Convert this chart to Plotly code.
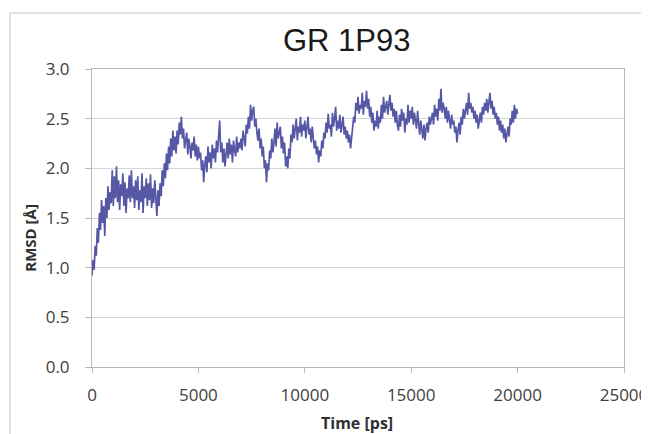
import plotly.graph_objects as go

# Time axis (ps), sampled every 50 ps
time_ps = [i * 50 for i in range(401)]

# RMSD values (Å), 20 values per 1000 ps
rmsd = [
    0.92, 1.08, 0.98, 1.22, 1.12, 1.40, 1.25, 1.55, 1.38, 1.68, 1.45, 1.62, 1.32, 1.70, 1.50, 1.82, 1.58, 1.76, 1.65, 1.98,
    1.62, 1.92, 1.70, 2.02, 1.66, 1.88, 1.58, 1.84, 1.72, 1.95, 1.62, 1.86, 1.55, 1.80, 1.70, 1.93, 1.66, 1.98, 1.70, 1.82,
    1.60, 1.88, 1.68, 1.92, 1.58, 1.78, 1.66, 1.95, 1.55, 1.82, 1.70, 1.90, 1.62, 1.85, 1.68, 1.94, 1.60, 1.80, 1.65, 1.88,
    1.70, 1.52, 1.78, 1.62, 1.85, 1.72, 1.98, 1.82, 2.05, 1.90, 2.15, 1.98, 2.22, 2.05, 2.30, 2.12, 2.38, 2.18, 2.32, 2.15,
    2.38, 2.24, 2.46, 2.34, 2.52, 2.30, 2.40, 2.20, 2.28, 2.36, 2.14, 2.30, 2.22, 2.10, 2.26, 2.18, 2.32, 2.12, 2.24, 2.08,
    2.22, 2.10, 2.16, 1.98, 2.08, 1.86, 2.04, 2.12, 1.96, 2.22, 2.06, 2.16, 2.00, 2.24, 2.10, 2.20, 2.06, 2.28, 2.16, 2.30,
    2.48, 2.16, 2.26, 2.06, 2.20, 2.02, 2.18, 2.26, 2.10, 2.30, 2.14, 2.24, 2.06, 2.28, 2.18, 2.12, 2.32, 2.16, 2.26, 2.20,
    2.30, 2.18, 2.38, 2.26, 2.22, 2.44, 2.35, 2.52, 2.40, 2.64, 2.48, 2.58, 2.62, 2.42, 2.50, 2.36, 2.28, 2.40, 2.20, 2.30,
    2.12, 2.22, 2.00, 2.08, 1.86, 2.05, 1.98, 2.18, 2.10, 2.30, 2.16, 2.26, 2.40, 2.22, 2.46, 2.30, 2.36, 2.42, 2.20, 2.32,
    2.15, 2.26, 2.02, 2.12, 2.00, 2.20, 2.10, 2.34, 2.26, 2.44, 2.30, 2.38, 2.50, 2.28, 2.42, 2.36, 2.52, 2.32, 2.44, 2.38,
    2.48, 2.30, 2.45, 2.52, 2.34, 2.40, 2.26, 2.42, 2.30, 2.20, 2.28, 2.14, 2.22, 2.06, 2.18, 2.12, 2.28, 2.20, 2.36, 2.30,
    2.46, 2.36, 2.55, 2.40, 2.44, 2.32, 2.56, 2.42, 2.50, 2.62, 2.38, 2.48, 2.40, 2.54, 2.36, 2.46, 2.52, 2.34, 2.42, 2.30,
    2.38, 2.26, 2.34, 2.20, 2.30, 2.44, 2.52, 2.46, 2.66, 2.58, 2.72, 2.55, 2.64, 2.60, 2.76, 2.54, 2.68, 2.62, 2.78, 2.60,
    2.70, 2.52, 2.62, 2.46, 2.56, 2.38, 2.48, 2.42, 2.58, 2.40, 2.52, 2.46, 2.64, 2.50, 2.72, 2.56, 2.62, 2.68, 2.54, 2.66,
    2.74, 2.58, 2.66, 2.52, 2.60, 2.46, 2.58, 2.44, 2.38, 2.54, 2.42, 2.60, 2.48, 2.56, 2.36, 2.50, 2.44, 2.64, 2.46, 2.58,
    2.50, 2.62, 2.44, 2.56, 2.48, 2.40, 2.58, 2.42, 2.34, 2.48, 2.38, 2.30, 2.44, 2.28, 2.40, 2.46, 2.36, 2.52, 2.44, 2.50,
    2.56, 2.44, 2.64, 2.52, 2.60, 2.48, 2.70, 2.58, 2.80, 2.56, 2.66, 2.60, 2.50, 2.62, 2.46, 2.58, 2.50, 2.40, 2.54, 2.44,
    2.48, 2.36, 2.42, 2.26, 2.38, 2.46, 2.34, 2.52, 2.44, 2.60, 2.50, 2.58, 2.66, 2.54, 2.76, 2.60, 2.66, 2.56, 2.62, 2.50,
    2.58, 2.46, 2.54, 2.40, 2.50, 2.56, 2.46, 2.62, 2.54, 2.66, 2.58, 2.70, 2.56, 2.64, 2.76, 2.60, 2.68, 2.54, 2.62, 2.50,
    2.56, 2.44, 2.52, 2.38, 2.48, 2.36, 2.44, 2.30, 2.40, 2.26, 2.36, 2.42, 2.32, 2.50, 2.44, 2.58, 2.46, 2.64, 2.50, 2.60,
    2.55,
]

x_ticks = [0, 5000, 10000, 15000, 20000, 25000]
x_tick_labels = ["0", "5000", "10000", "15000", "20000", "25000"]
y_ticks = [0.0, 0.5, 1.0, 1.5, 2.0, 2.5, 3.0]
y_tick_labels = ["0.0", "0.5", "1.0", "1.5", "2.0", "2.5", "3.0"]

title_text = "GR 1P93"
x_title = "Time [ps]"
y_title = "RMSD [Å]"

fig = go.Figure()
fig.add_trace(go.Scatter(
    x=time_ps, y=rmsd, mode="lines",
    line=dict(color="#5658a6", width=1.7),
    showlegend=False, hoverinfo="skip",
))

tick_font = dict(family="Open Sans", size=17, color="#404040")

# The page body adds an 8 px offset, so the figure is sized to fit the window.
fig.update_layout(
    width=641, height=426,
    margin=dict(l=84, r=25, t=61, b=67, autoexpand=False),
    paper_bgcolor="white", plot_bgcolor="white",
    xaxis=dict(
        range=[0, 25000], tickvals=x_ticks, ticktext=x_tick_labels,
        showgrid=False, zeroline=False, automargin=False,
        showline=True, linecolor="#b8b8b8", linewidth=1, mirror=True,
        ticks="outside", ticklen=5, tickcolor="#b8b8b8",
        tickfont=tick_font, ticklabelstandoff=8,
    ),
    yaxis=dict(
        range=[0, 3.0], tickvals=y_ticks, ticktext=y_tick_labels,
        showgrid=True, gridcolor="#d4d4d4", gridwidth=1, zeroline=False,
        automargin=False,
        showline=True, linecolor="#b8b8b8", linewidth=1, mirror=True,
        ticks="outside", ticklen=6, tickcolor="#b8b8b8",
        tickfont=tick_font, ticklabelstandoff=12,
    ),
    shapes=[dict(
        type="rect", xref="paper", yref="paper",
        x0=-0.154, x1=1.6, y0=-0.5, y1=1.188,
        line=dict(color="#d8d8d8", width=1.5), layer="below",
    )],
    annotations=[
        dict(text=title_text, xref="paper", yref="paper", x=0.479, y=1.094,
             xanchor="center", yanchor="middle", showarrow=False,
             font=dict(family="Liberation Sans", size=31, color="#1a1a1a")),
        dict(text="<b>" + x_title + "</b>", xref="paper", yref="paper",
             x=0.498, y=-0.188, xanchor="center", yanchor="middle",
             showarrow=False,
             font=dict(family="Open Sans", size=16, color="#303030")),
        dict(text="<b>" + y_title + "</b>", xref="paper", yref="paper",
             x=-0.117, y=0.433, xanchor="center", yanchor="middle",
             textangle=-90, showarrow=False,
             font=dict(family="Open Sans", size=15, color="#303030")),
    ],
)

fig.write_html("out.html")
